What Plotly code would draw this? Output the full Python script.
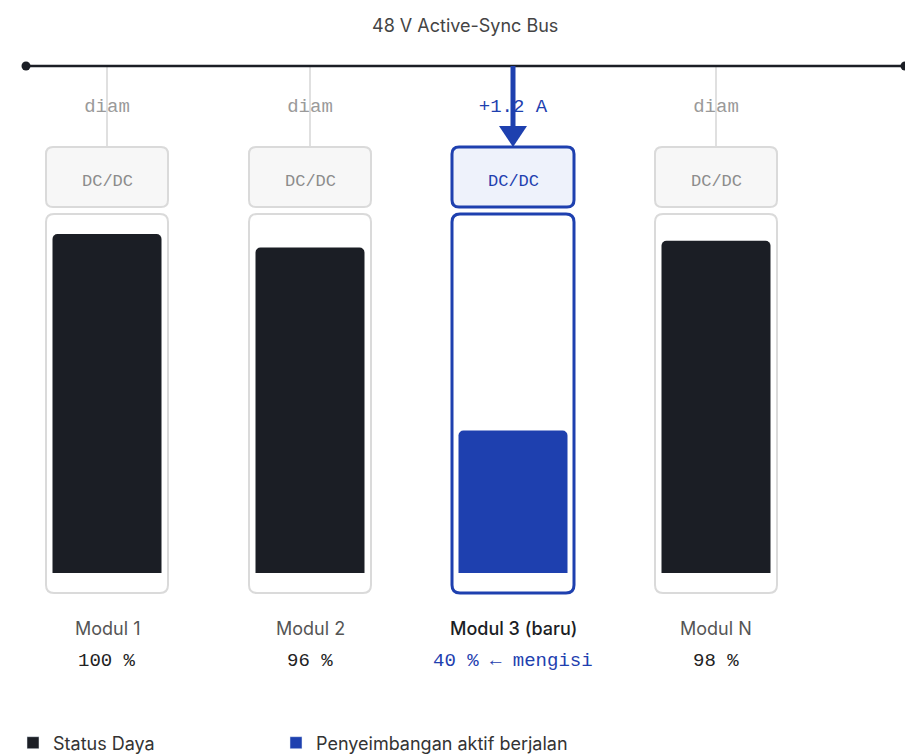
import plotly.graph_objects as go

# ---------------- data ----------------
modules = ["Modul 1", "Modul 2", "Modul 3 (baru)", "Modul N"]
pct_labels = ["100 %", "96 %", "40 % \u2190 mengisi", "98 %"]
fill_level = [100, 96, 42, 98]          # bar height (%)
status = ["diam", "diam", "+1.2 A", "diam"]
active = [False, False, True, False]
bus_title = "48 V Active-Sync Bus"
legend_names = ["Status Daya", "Penyeimbangan aktif berjalan"]

# ---------------- style / layout ----------------
PAGE_W, PAGE_H = 913, 756
OFF = 8                      # default body margin of the html page
W, H = PAGE_W - OFF, PAGE_H - OFF
DARK = "#1b1e25"
BLUE = "#1e40af"
GRAY_LINE = "#d6d6d6"
SANS = "Inter"
MONO = "Liberation Mono"

x_first, x_step = 107, 203
centers = [x_first + x_step * i for i in range(len(modules))]
box_half = 61
bus_y, bus_x0, bus_x1 = 66, 26, 905
dc_y0, dc_y1 = 147, 207
bat_y0, bat_y1 = 214, 593
bar_bottom_px, bar_top_px = 573, 234
bar_w = 109
legend_key_x = [33, 296]     # page x of legend keys
legend_y = 743


def rrect(x0, y0, x1, y1, r):
    return (f"M {x0+r},{y0} L {x1-r},{y0} Q {x1},{y0} {x1},{y0+r} "
            f"L {x1},{y1-r} Q {x1},{y1} {x1-r},{y1} L {x0+r},{y1} "
            f"Q {x0},{y1} {x0},{y1-r} L {x0},{y0+r} Q {x0},{y0} {x0+r},{y0} Z")


fig = go.Figure()

# bars (fill level) on their own percentage axis
idle_idx = [i for i, a in enumerate(active) if not a]
act_idx = [i for i, a in enumerate(active) if a]
fig.add_trace(go.Bar(
    x=[centers[i] for i in idle_idx], y=[fill_level[i] for i in idle_idx],
    width=bar_w, marker=dict(color=DARK, line=dict(width=0), cornerradius=5),
    name=legend_names[0], xaxis="x", yaxis="y2", hoverinfo="skip",
    showlegend=False))
fig.add_trace(go.Bar(
    x=[centers[i] for i in act_idx], y=[fill_level[i] for i in act_idx],
    width=bar_w, marker=dict(color=BLUE, line=dict(width=0), cornerradius=5),
    name=legend_names[1], xaxis="x", yaxis="y2", hoverinfo="skip",
    showlegend=False))
# legend entries (square keys), one legend each
for nm, col, lg in zip(legend_names, [DARK, BLUE], ["legend", "legend2"]):
    fig.add_trace(go.Bar(x=[None], y=[None], name=nm, marker=dict(color=col),
                         xaxis="x", yaxis="y2", hoverinfo="skip", legend=lg))

# status text row (scatter text so the arrow can be drawn above it)
fig.add_trace(go.Scatter(
    x=centers, y=[107] * len(centers), mode="text", text=status,
    textposition="middle center",
    textfont=dict(family=MONO, size=19,
                  color=[BLUE if a else "#9a9a9a" for a in active]),
    showlegend=False, hoverinfo="skip", xaxis="x", yaxis="y"))

shapes = []
# bus
shapes.append(dict(type="line", x0=bus_x0, x1=bus_x1, y0=bus_y, y1=bus_y,
                   line=dict(color=DARK, width=2.5), layer="above"))
for bx in (bus_x0, bus_x1):
    shapes.append(dict(type="circle", x0=bx - 4.5, x1=bx + 4.5, y0=bus_y - 4.5,
                       y1=bus_y + 4.5, fillcolor=DARK, line=dict(width=0),
                       layer="above"))

for c, a in zip(centers, active):
    x0, x1 = c - box_half, c + box_half
    if a:
        shapes.append(dict(type="line", x0=c, x1=c, y0=bus_y, y1=128,
                           line=dict(color=BLUE, width=5), layer="above"))
        shapes.append(dict(type="path",
                           path=f"M {c-14},126 L {c+14},126 L {c},{dc_y0} Z",
                           fillcolor=BLUE, line=dict(width=0), layer="above"))
        shapes.append(dict(type="path", path=rrect(x0, dc_y0, x1, dc_y1, 7),
                           fillcolor="#eef2fb", line=dict(color=BLUE, width=3),
                           layer="below"))
        shapes.append(dict(type="path", path=rrect(x0, bat_y0, x1, bat_y1, 8),
                           fillcolor="white", line=dict(color=BLUE, width=3),
                           layer="below"))
    else:
        shapes.append(dict(type="line", x0=c, x1=c, y0=bus_y, y1=dc_y0,
                           line=dict(color=GRAY_LINE, width=1.5), layer="below"))
        shapes.append(dict(type="path", path=rrect(x0, dc_y0, x1, dc_y1, 7),
                           fillcolor="#f7f7f7", line=dict(color="#dadada", width=2),
                           layer="below"))
        shapes.append(dict(type="path", path=rrect(x0, bat_y0, x1, bat_y1, 8),
                           fillcolor="white", line=dict(color="#dadada", width=2),
                           layer="below"))

annotations = [dict(x=465, y=25, text=bus_title, showarrow=False,
                    font=dict(family=SANS, size=18, color="#444444"),
                    xref="x", yref="y")]
for c, a, m, p in zip(centers, active, modules, pct_labels):
    annotations.append(dict(x=c, y=181, text="DC/DC", showarrow=False,
                            font=dict(family=MONO, size=17,
                                      color=BLUE if a else "#8c8c8c"),
                            xref="x", yref="y"))
    annotations.append(dict(x=c, y=628, text=m, showarrow=False,
                            font=dict(family=SANS, size=18,
                                      color="#1b1e25" if a else "#555555",
                                      weight=500 if a else 400),
                            xref="x", yref="y"))
    annotations.append(dict(x=c, y=661, text=p, showarrow=False,
                            font=dict(family=MONO, size=19,
                                      color=BLUE if a else "#222222"),
                            xref="x", yref="y"))


def legend_box(key_x):
    return dict(orientation="h", xref="container", yref="container",
                x=(key_x - OFF - 20) / W, xanchor="left",
                y=(PAGE_H - legend_y) / H, yanchor="middle",
                font=dict(family=SANS, size=18, color="#333333"),
                bgcolor="rgba(0,0,0,0)", borderwidth=0)


fig.update_layout(
    width=W, height=H, margin=dict(l=0, r=0, t=0, b=0, autoexpand=False),
    paper_bgcolor="white", plot_bgcolor="rgba(0,0,0,0)",
    barmode="overlay", shapes=shapes, annotations=annotations,
    xaxis=dict(range=[OFF, PAGE_W], visible=False, fixedrange=True),
    yaxis=dict(range=[PAGE_H, OFF], visible=False, fixedrange=True, domain=[0, 1]),
    yaxis2=dict(range=[0, 100], visible=False, fixedrange=True, anchor="x",
                domain=[(PAGE_H - bar_bottom_px) / H, (PAGE_H - bar_top_px) / H]),
    showlegend=True,
    legend=legend_box(legend_key_x[0]),
    legend2=legend_box(legend_key_x[1]),
)

fig.write_html("out.html")
